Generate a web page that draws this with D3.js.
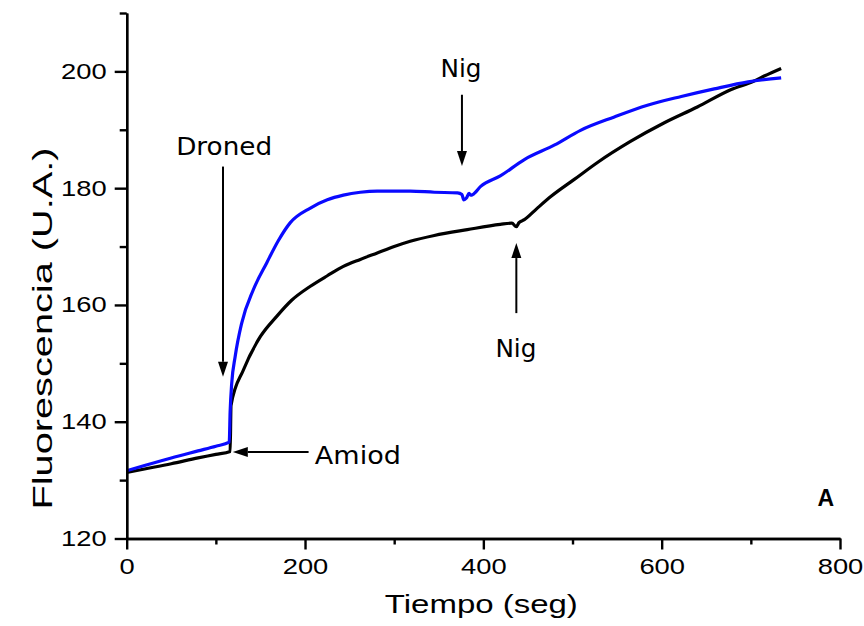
<!DOCTYPE html>
<html>
<head>
<meta charset="utf-8">
<script src="https://cdn.jsdelivr.net/npm/d3@7/dist/d3.min.js"></script>
<style>
  html, body { margin: 0; padding: 0; background: #fff; }
  svg { display: block; }
</style>
</head>
<body>
<svg id="chart" width="864" height="626"></svg>
<script>
// Time (s) and fluorescence (A.U.) for the two traces
const blackTime = [0, 20, 50, 80, 100, 116, 117, 131, 150, 168, 185, 206, 225, 243, 262, 281, 300, 318, 345, 382, 419, 432, 437, 440, 446, 460, 476, 502, 528, 565, 603, 640, 678, 703, 715, 734];
const blackFluo = [131.3, 131.9, 132.8, 133.8, 134.4, 134.9, 142.8, 148.9, 154.6, 158.0, 160.8, 163.2, 165.0, 166.6, 167.8, 168.9, 170.0, 170.9, 171.9, 172.9, 173.8, 174.0, 173.4, 174.1, 174.6, 176.5, 178.6, 181.5, 184.4, 188.0, 191.2, 193.9, 196.9, 198.3, 199.2, 200.5];

const blueTime = [0, 20, 50, 80, 100, 115, 116, 117.8, 121.7, 129, 142, 157, 170, 183.5, 206, 225, 243, 262, 281, 300, 318, 345, 371, 376, 378, 381, 384, 386, 388, 397, 419, 446, 480, 509, 547, 584, 622, 659, 697, 734];
const blueFluo = [131.6, 132.5, 133.8, 135.0, 135.8, 136.5, 141.7, 146.6, 151.2, 156.9, 162.6, 167.2, 171.0, 174.1, 176.6, 178.0, 178.8, 179.3, 179.5, 179.5, 179.5, 179.3, 179.2, 178.9, 178.0, 178.3, 179.1, 178.8, 178.9, 180.3, 182.1, 184.9, 187.4, 189.9, 192.2, 194.2, 195.7, 197.0, 198.2, 198.9];

// Axis ticks
const xMajorTicks = [0, 200, 400, 600, 800];
const xMinorTicks = [100, 300, 500, 700];
const yMajorTicks = [120, 140, 160, 180, 200];
const yMinorTicks = [130, 150, 170, 190, 210];

// Annotations: arrows (time, fluorescence from -> to) and labels
const arrows = [
  { x1: 108, y1: 183.7, x2: 108, y2: 147.7 },   // Droned
  { x1: 204, y1: 134.8, x2: 119, y2: 134.8 },   // Amiod
  { x1: 376, y1: 196.0, x2: 376, y2: 183.8 },   // Nig (upper)
  { x1: 437, y1: 158.6, x2: 437, y2: 170.6 }    // Nig (lower)
];
const notes = [
  { text: "Droned", x: 109.3, y: 185.7, anchor: "middle", len: 96 },
  { text: "Amiod", x: 211, y: 132.7, anchor: "start", len: 86 },
  { text: "Nig", x: 375, y: 199.0, anchor: "middle", len: 41 },
  { text: "Nig", x: 436.5, y: 151.1, anchor: "middle", len: 41 }
];

const svg = d3.select("#chart");
const plotLeft = 126.7, plotRight = 840, plotTop = 13, plotBottom = 538.5;

const x = d3.scaleLinear().domain([0, 800]).range([plotLeft, plotRight]);
const y = d3.scaleLinear().domain([120, 210]).range([plotBottom, plotTop]);

const tickFont = "'Liberation Sans', Arial, sans-serif";
const noteFont = "'DejaVu Sans', Verdana, sans-serif";

// Traces
const line = d3.line().x(d => x(d[0])).y(d => y(d[1])).curve(d3.curveMonotoneX);
svg.append("path")
  .datum(blackTime.map((t, i) => [t, blackFluo[i]]))
  .attr("d", line).attr("fill", "none").attr("stroke", "#000")
  .attr("stroke-width", 3.2).attr("stroke-linejoin", "round");
svg.append("path")
  .datum(blueTime.map((t, i) => [t, blueFluo[i]]))
  .attr("d", line).attr("fill", "none").attr("stroke", "#0a0aff")
  .attr("stroke-width", 3.2).attr("stroke-linejoin", "round");

// Axes
const axisStroke = 2.4;
function styleAxis(g) {
  g.selectAll("path.domain").attr("stroke", "#000").attr("stroke-width", axisStroke);
  g.selectAll(".tick line").attr("stroke", "#000").attr("stroke-width", axisStroke);
}

const xMinor = svg.append("g").attr("transform", `translate(0,${plotBottom})`)
  .call(d3.axisBottom(x).tickValues(xMinorTicks).tickSize(6).tickSizeOuter(0).tickFormat(""));
styleAxis(xMinor);
const xMajor = svg.append("g").attr("transform", `translate(0,${plotBottom})`)
  .call(d3.axisBottom(x).tickValues(xMajorTicks).tickSize(11).tickSizeOuter(0).tickPadding(9));
styleAxis(xMajor);
xMajor.selectAll(".tick text")
  .attr("font-family", tickFont).attr("font-size", 22).attr("fill", "#000")
  .attr("textLength", d => String(d).length * 15.2).attr("lengthAdjust", "spacingAndGlyphs");

const yMinor = svg.append("g").attr("transform", `translate(${plotLeft},0)`)
  .call(d3.axisLeft(y).tickValues(yMinorTicks).tickSize(7).tickSizeOuter(0).tickFormat(""));
styleAxis(yMinor);
const yMajor = svg.append("g").attr("transform", `translate(${plotLeft},0)`)
  .call(d3.axisLeft(y).tickValues(yMajorTicks).tickSize(12).tickSizeOuter(0).tickPadding(8));
styleAxis(yMajor);
yMajor.selectAll(".tick text")
  .attr("font-family", tickFont).attr("font-size", 22).attr("fill", "#000")
  .attr("textLength", d => String(d).length * 15.2).attr("lengthAdjust", "spacingAndGlyphs");

// Axis titles
svg.append("text")
  .attr("x", x(400) - 2).attr("y", 613)
  .attr("text-anchor", "middle")
  .attr("font-family", tickFont).attr("font-size", 26).attr("fill", "#000")
  .attr("textLength", 193).attr("lengthAdjust", "spacingAndGlyphs")
  .text("Tiempo (seg)");

svg.append("text")
  .attr("transform", `translate(52,${(147 + 510) / 2}) rotate(-90)`)
  .attr("text-anchor", "middle")
  .attr("font-family", tickFont).attr("font-size", 27).attr("fill", "#000")
  .attr("textLength", 362).attr("lengthAdjust", "spacingAndGlyphs")
  .text("Fluorescencia (U.A.)");

// Arrows
const headLen = 15, headHalf = 5;
arrows.forEach(a => {
  const x1 = x(a.x1), y1 = y(a.y1), x2 = x(a.x2), y2 = y(a.y2);
  const ang = Math.atan2(y2 - y1, x2 - x1);
  const bx = x2 - headLen * Math.cos(ang), by = y2 - headLen * Math.sin(ang);
  svg.append("line")
    .attr("x1", x1).attr("y1", y1).attr("x2", bx).attr("y2", by)
    .attr("stroke", "#000").attr("stroke-width", 2);
  const px = -Math.sin(ang) * headHalf, py = Math.cos(ang) * headHalf;
  svg.append("path")
    .attr("d", `M${x2},${y2}L${bx + px},${by + py}L${bx - px},${by - py}Z`)
    .attr("fill", "#000");
});

// Annotation labels
notes.forEach(n => {
  svg.append("text")
    .attr("x", x(n.x)).attr("y", y(n.y))
    .attr("text-anchor", n.anchor)
    .attr("font-family", noteFont).attr("font-size", 25).attr("fill", "#000")
    .attr("textLength", n.len).attr("lengthAdjust", "spacingAndGlyphs")
    .text(n.text);
});

// Panel letter
svg.append("text")
  .attr("x", x(784)).attr("y", y(125.6))
  .attr("text-anchor", "middle")
  .attr("font-family", tickFont).attr("font-size", 23).attr("font-weight", "bold").attr("fill", "#000")
  .text("A");
</script>
</body>
</html>
